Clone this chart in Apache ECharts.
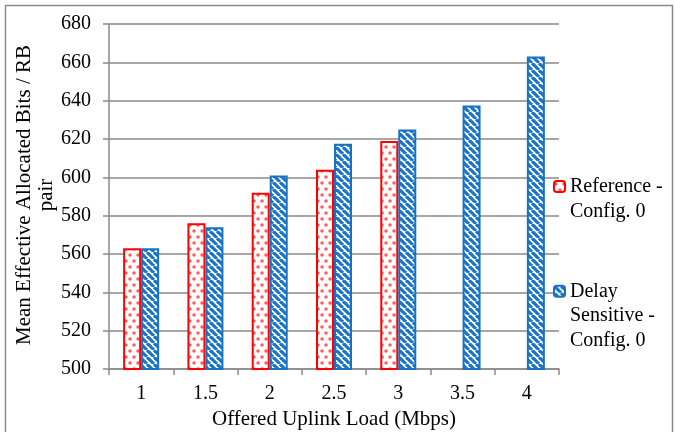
<!DOCTYPE html>
<html>
<head>
<meta charset="utf-8">
<script src="https://cdn.jsdelivr.net/npm/echarts@6/dist/echarts.min.js"></script>
<style>
    html, body { margin: 0; padding: 0; background: #fff; }
    #main { width: 675px; height: 432px; }
</style>
</head>
<body>
<div id="main"></div>
<script>
var loads = ['1', '1.5', '2', '2.5', '3', '3.5', '4'];
var referenceBits = [563, 576, 592, 604, 619, '-', '-'];
var delayBits = [563, 574, 601, 617.5, 625, 637.5, 663];
var seriesNames = ['Reference - Config. 0', 'Delay Sensitive - Config. 0'];
// blank lines on top so the icon sits by the first real line
var legendLines = {
    'Reference - Config. 0': ' \nReference -\nConfig. 0',
    'Delay Sensitive - Config. 0': ' \n \nDelay\nSensitive -\nConfig. 0'
};

// fill patterns like the office chart
function dotPattern() {
    var c = document.createElement('canvas');
    c.width = 8; c.height = 12;
    var g = c.getContext('2d');
    g.fillStyle = '#fff';
    g.fillRect(0, 0, 8, 12);
    g.fillStyle = 'rgba(255,50,50,0.8)';
    [[2, 3], [6, 9]].forEach(function (p) {
        g.beginPath();
        g.arc(p[0], p[1], 1.7, 0, Math.PI * 2);
        g.fill();
    });
    return c;
}

function stripePattern() {
    var s = 7;
    var c = document.createElement('canvas');
    c.width = s; c.height = s;
    var g = c.getContext('2d');
    g.fillStyle = '#fff';
    g.fillRect(0, 0, s, s);
    g.strokeStyle = '#1b74c6';
    g.lineWidth = 3.2;
    for (var k = -1; k <= 1; k++) {
        g.beginPath();
        g.moveTo(k * s, 0);
        g.lineTo(k * s + s, s);
        g.stroke();
    }
    return c;
}

var font = 'Liberation Serif';
var chart = echarts.init(document.getElementById('main'));
var option = {
    animation: false,
    textStyle: { fontFamily: font, color: '#000' },
    grid: { left: 109, right: 116, top: 24, bottom: 63, outerBoundsMode: 'none' },
    graphic: [
        {
            type: 'rect',
            shape: { x: 5.5, y: 5.5, width: 667, height: 440 },
            style: { fill: 'none', stroke: '#8a8a8a', lineWidth: 1.5 }
        },
        {
            type: 'text',
            x: 35, y: 195,
            rotation: Math.PI / 2,
            style: {
                text: 'Mean Effective Allocated Bits / RB\npair',
                font: '21px ' + font,
                fill: '#000',
                align: 'center',
                verticalAlign: 'middle',
                lineHeight: 22
            }
        }
    ],
    legend: [
        {
            data: [seriesNames[0]],
            orient: 'vertical',
            left: 553, top: 149,
            padding: 0,
            itemWidth: 11, itemHeight: 11, itemGap: 5,
            formatter: function (n) { return legendLines[n]; },
            textStyle: { fontFamily: font, fontSize: 20, color: '#000', lineHeight: 25 }
        },
        {
            data: [seriesNames[1]],
            orient: 'vertical',
            left: 553, top: 230,
            padding: 0,
            itemWidth: 11, itemHeight: 11, itemGap: 5,
            formatter: function (n) { return legendLines[n]; },
            textStyle: { fontFamily: font, fontSize: 20, color: '#000', lineHeight: 24.5 }
        }
    ],
    xAxis: {
        type: 'category',
        data: loads,
        name: 'Offered Uplink Load (Mbps)',
        nameLocation: 'middle',
        nameGap: 32,
        nameTextStyle: { fontFamily: font, fontSize: 21, color: '#000' },
        axisLine: { lineStyle: { color: '#8a8a8a', width: 1.5 } },
        axisTick: { show: true, length: 6, lineStyle: { color: '#8a8a8a', width: 1.5 } },
        axisLabel: { fontFamily: font, fontSize: 20, color: '#000', margin: 15 }
    },
    yAxis: {
        type: 'value',
        min: 500,
        max: 680,
        interval: 20,
        axisLine: { show: true, lineStyle: { color: '#8a8a8a', width: 1.5 } },
        axisTick: { show: true, length: 6, lineStyle: { color: '#8a8a8a', width: 1.5 } },
        axisLabel: { fontFamily: font, fontSize: 20, color: '#000', margin: 18 },
        splitLine: { lineStyle: { color: '#8a8a8a', width: 1.5 } }
    },
    series: [
        {
            name: seriesNames[0],
            type: 'bar',
            data: referenceBits,
            barWidth: 18,
            barGap: '0%',
            itemStyle: {
                color: { image: dotPattern(), repeat: 'repeat' },
                borderColor: '#ff0000',
                borderWidth: 2
            }
        },
        {
            name: seriesNames[1],
            type: 'bar',
            data: delayBits,
            barWidth: 18,
            barGap: '0%',
            itemStyle: {
                color: { image: stripePattern(), repeat: 'repeat' },
                borderColor: '#1872c4',
                borderWidth: 2
            }
        }
    ]
};
chart.setOption(option);
</script>
</body>
</html>
